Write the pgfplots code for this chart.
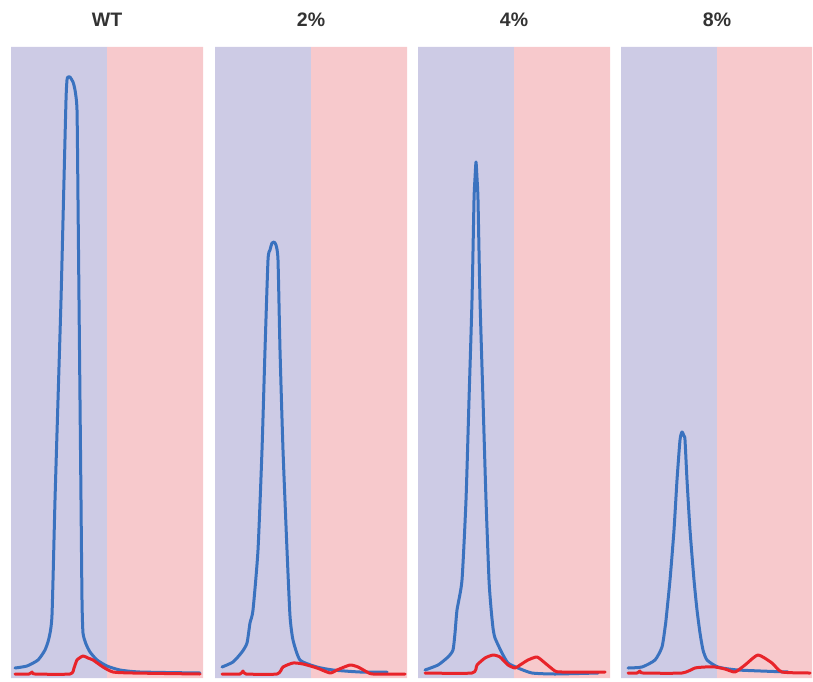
\documentclass[border=0pt]{standalone}
\usepackage{pgfplots}
\pgfplotsset{compat=1.18}
\usepackage{fontspec}
\setmainfont{Liberation Sans}
\definecolor{bgpurple}{HTML}{CDCBE5}
\definecolor{bgpink}{HTML}{F7C9CC}
\definecolor{lblue}{HTML}{3A72BF}
\definecolor{lred}{HTML}{E8242A}
\pgfplotsset{
  panel/.style={at={(#1pt,3pt)}, anchor=south west, scale only axis,
    width=192pt, height=631pt, xmin=#1, xmax=#1+192, ymin=0, ymax=631,
    hide axis, clip=false},
  bl/.style={lblue, line width=3pt, line join=round, line cap=round, smooth, tension=0.35},
  rl/.style={lred, line width=3pt, line join=round, line cap=round, smooth, tension=0.35},
}
\begin{document}
\begin{tikzpicture}[x=1pt,y=1pt]
\path (0,0) rectangle (813,681);
% ---------- WT
\begin{axis}[panel=11]
\addplot[fill=bgpurple, draw=none] coordinates {(11,0)(107,0)(107,631)(11,631)} \closedcycle;
\addplot[fill=bgpink, draw=none] coordinates {(107,0)(203,0)(203,631)(107,631)} \closedcycle;
\addplot[bl] coordinates {(15,10)(27,12)(38,18)(45,28)(49,40)(52,63)(55,178)(58,278)(61,378)(63.5,478)(66,578)(67,598)(68,601)(70,601)(73,596)(75,588)(77,568)(78,478)(79,378)(80,278)(81,178)(82,78)(83,45)(86,34)(90,26)(97,18)(107,12)(120,8)(140,6)(200,5)};
\addplot[rl] coordinates {(15,4)(29,4)(32,6)(35,4)(70,4)(74,10)(77,18)(83,22)(88,20)(93,18)(103,11)(113,6)(133,5)(200,4)};
\end{axis}
% ---------- 2%
\begin{axis}[panel=215]
\addplot[fill=bgpurple, draw=none] coordinates {(215,0)(311,0)(311,631)(215,631)} \closedcycle;
\addplot[fill=bgpink, draw=none] coordinates {(311,0)(407,0)(407,631)(311,631)} \closedcycle;
\addplot[bl] coordinates {(222,11)(233,16)(242,26)(247,35)(250,55)(253,68)(258,128)(262,228)(265,328)(268,418)(270,428)(272,435)(274,436)(276,433)(278,418)(280,328)(283,228)(287,128)(290,62)(293,38)(300,18)(317,11)(333,8)(360,6)(387,6)};
\addplot[rl] coordinates {(222,4)(240,4)(243,7)(246,4)(277,4)(283,11)(293,15)(303,14)(317,10)(330,5)(337,8)(350,13)(358,11)(367,6)(373,4)(405,4)};
\end{axis}
% ---------- 4%
\begin{axis}[panel=418]
\addplot[fill=bgpurple, draw=none] coordinates {(418,0)(514,0)(514,631)(418,631)} \closedcycle;
\addplot[fill=bgpink, draw=none] coordinates {(514,0)(610,0)(610,631)(514,631)} \closedcycle;
\addplot[bl] coordinates {(425,8)(438,13)(448,21)(453,28)(455,45)(457,68)(462,98)(466,178)(469,278)(472,378)(474,478)(475,500)(476,516)(477,500)(478,478)(480,378)(483,278)(486,178)(489,98)(491,70)(493,50)(495,40)(502,25)(508,15)(518,10)(532,5)(555,4)(598,5)};
\addplot[rl] coordinates {(425,5)(472,5)(477,13)(485,20)(493,23)(500,21)(508,13)(515,10)(520,13)(528,18)(537,21)(545,15)(555,7)(562,6)(605,6)};
\end{axis}
% ---------- 8%
\begin{axis}[panel=621]
\addplot[fill=bgpurple, draw=none] coordinates {(621,0)(717,0)(717,631)(621,631)} \closedcycle;
\addplot[fill=bgpink, draw=none] coordinates {(717,0)(812,0)(812,631)(717,631)} \closedcycle;
\addplot[bl] coordinates {(628,10)(642,11)(655,18)(662,31)(665,50)(666,58)(670,98)(674,148)(677,198)(680,238)(682,246)(684,242)(685,238)(687,198)(690,148)(694,98)(697,68)(700,45)(703,28)(707,18)(718,11)(738,8)(788,6)};
\addplot[rl] coordinates {(628,5)(637,5)(640,7)(643,5)(682,5)(695,10)(705,11)(715,11)(725,9)(735,6)(745,13)(758,23)(772,15)(782,6)(810,5)};
\end{axis}
\foreach \cx/\t in {107/WT, 311/2\%, 514/4\%, 717/8\%}{
  \node[font=\fontsize{19.5}{22}\selectfont\bfseries, text=black!80] at (\cx,661) {\t};
}
\end{tikzpicture}
\end{document}
